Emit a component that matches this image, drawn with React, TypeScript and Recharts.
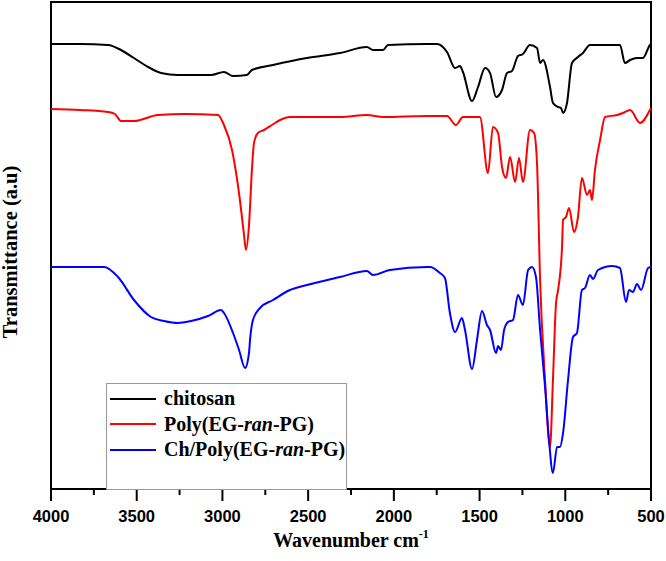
import React from 'react';
import { LineChart, Line, XAxis, YAxis, ReferenceArea, Legend } from 'recharts';

// Wavenumber tick positions (majors every 500, minors in between)
const xTicks = [4000, 3750, 3500, 3250, 3000, 2750, 2500, 2250, 2000, 1750, 1500, 1250, 1000, 750, 500];

// [wavenumber cm-1, transmittance (a.u.)]
const chitosan: [number, number][] = [
  [4000, 88.8], [3831, 88.8], [3667, 88.6], [3592, 87.6], [3516, 86.0], [3434, 84.2], [3358, 83.0],
  [3259, 82.6], [3067, 82.6], [2991, 83.2], [2938, 82.4], [2857, 82.6], [2828, 83.6], [2705, 84.6],
  [2507, 86.0], [2314, 87.0], [2157, 88.2], [2122, 87.6], [2063, 87.6], [2034, 88.6], [1807, 88.8],
  [1748, 88.8], [1690, 87.2], [1643, 84.0], [1614, 84.4], [1597, 83.2], [1544, 77.4], [1509, 80.2],
  [1468, 84.0], [1439, 83.0], [1404, 78.2], [1369, 79.6], [1340, 83.0], [1311, 83.4], [1276, 86.4],
  [1247, 86.8], [1206, 88.6], [1165, 88.0], [1147, 85.0], [1130, 85.6], [1089, 80.2], [1072, 77.0],
  [1042, 76.2], [1025, 76.0], [1013, 75.0], [990, 77.0], [961, 85.0], [926, 86.2], [897, 87.0],
  [856, 88.6], [681, 88.6], [652, 85.0], [622, 85.6], [582, 86.0], [547, 86.0], [506, 88.6], [500, 88.8],
];

const polyEgPg: [number, number][] = [
  [4000, 75.8], [3831, 75.6], [3667, 75.2], [3627, 74.8], [3592, 73.4], [3516, 73.4], [3376, 74.6],
  [3218, 74.8], [3026, 74.6], [2991, 72.6], [2944, 67.6], [2898, 57.6], [2874, 50.6], [2863, 47.6],
  [2845, 52.6], [2828, 63.6], [2816, 69.0], [2793, 71.0], [2758, 71.6], [2711, 72.6], [2664, 73.6],
  [2606, 74.2], [2314, 74.2], [2157, 74.6], [2063, 74.2], [1807, 74.4], [1690, 74.4], [1638, 72.6],
  [1597, 74.2], [1498, 74.2], [1451, 63.0], [1422, 72.2], [1392, 71.0], [1369, 64.2], [1346, 62.0],
  [1322, 66.2], [1293, 61.2], [1270, 66.0], [1247, 61.2], [1206, 71.6], [1182, 71.0], [1165, 65.0],
  [1147, 41.6], [1118, 21.6], [1089, 8.2], [1072, 21.6], [1054, 37.0], [1042, 39.6], [1019, 48.2],
  [1013, 53.6], [996, 54.2], [978, 56.0], [949, 51.2], [926, 54.2], [903, 62.0], [873, 58.6],
  [856, 59.6], [844, 57.6], [827, 63.6], [797, 69.6], [768, 74.2], [698, 74.6], [663, 75.0],
  [622, 75.6], [564, 73.0], [506, 75.6], [500, 76.0],
];

const chPolyEgPg: [number, number][] = [
  [4000, 44.2], [3691, 44.2], [3609, 42.2], [3516, 37.6], [3417, 34.2], [3341, 33.4], [3259, 33.0],
  [3183, 33.4], [3084, 34.4], [3008, 35.6], [2991, 35.0], [2938, 31.0], [2903, 27.6], [2868, 24.0],
  [2845, 27.0], [2839, 29.6], [2822, 33.6], [2781, 36.0], [2705, 37.6], [2606, 39.6], [2507, 40.6],
  [2314, 42.2], [2157, 43.4], [2122, 42.6], [2023, 43.6], [1807, 44.2], [1789, 44.2], [1731, 43.0],
  [1702, 42.0], [1673, 35.0], [1643, 31.2], [1603, 34.0], [1585, 31.6], [1544, 23.8], [1515, 29.6],
  [1486, 35.4], [1457, 32.6], [1439, 31.6], [1404, 27.0], [1392, 28.4], [1375, 27.6], [1357, 31.6],
  [1334, 33.2], [1305, 33.6], [1276, 38.6], [1247, 36.6], [1217, 43.6], [1194, 44.2], [1171, 42.2],
  [1147, 31.6], [1118, 20.2], [1095, 9.6], [1072, 3.0], [1048, 8.2], [1031, 8.2], [1013, 11.0],
  [984, 21.6], [955, 30.2], [932, 31.0], [903, 39.6], [885, 40.0], [856, 42.6], [838, 41.8],
  [809, 43.6], [727, 44.4], [681, 44.0], [646, 37.2], [628, 39.6], [605, 39.2], [582, 40.8],
  [558, 39.6], [517, 44.0], [500, 44.2],
];

const seriesNames = ['chitosan', 'Poly(EG-ran-PG)', 'Ch/Poly(EG-ran-PG)'];
const seriesColors = ['#000000', '#ff0000', '#0000ff'];
const seriesPoints = [chitosan, polyEgPg, chPolyEgPg];

const toRows = (pts: [number, number][]) => pts.map(([wn, t]) => ({ wn, t }));

const SERIF = '"Liberation Serif", "Times New Roman", serif';
const SANS = '"Liberation Sans", Arial, sans-serif';

const renderName = (name: string) => {
  const parts = name.split('ran');
  if (parts.length < 2) return name;
  return (
    <>
      {parts[0]}
      <i>ran</i>
      {parts[1]}
    </>
  );
};

const XTick = (props: any) => {
  const { x, y, payload } = props;
  const major = payload.value % 500 === 0;
  return (
    <g>
      <line x1={x} x2={x} y1={y} y2={y + (major ? 12 : 6)} stroke="#000" strokeWidth={2} />
      {major && (
        <text
          x={x}
          y={y + 21}
          dy="0.71em"
          textAnchor="middle"
          fontFamily={SANS}
          fontWeight="bold"
          fontSize={16.5}
          fill="#000"
        >
          {payload.value}
        </text>
      )}
    </g>
  );
};

const LegendBox = (props: any) => {
  const raw: any[] = props.payload || [];
  const payload = [...raw].sort(
    (a, b) => seriesNames.indexOf(String(a.value)) - seriesNames.indexOf(String(b.value))
  );
  return (
    <div
      style={{
        width: 241,
        height: 107,
        boxSizing: 'border-box',
        border: '1px solid #999',
        background: '#fff',
        paddingTop: 2,
      }}
    >
      {payload.map((p: any, i: number) => (
        <div
          key={i}
          style={{ height: 25.5, display: 'flex', alignItems: 'center', whiteSpace: 'nowrap' }}
        >
          <svg width={54} height={6} style={{ marginLeft: 3, flex: 'none' }}>
            <line x1={0} x2={46} y1={3} y2={3} stroke={p.color} strokeWidth={2} />
          </svg>
          <span
            style={{
              fontFamily: SERIF,
              fontWeight: 'bold',
              fontSize: 20,
              color: '#000',
              lineHeight: '25px',
            }}
          >
            {renderName(String(p.value))}
          </span>
        </div>
      ))}
    </div>
  );
};

export default function App() {
  return (
    <div style={{ position: 'absolute', left: 0, top: 0, width: 666, height: 561 }}>
      <LineChart width={666} height={561} margin={{ top: 2, right: 15, bottom: 42, left: 51 }}>
        <XAxis
          dataKey="wn"
          type="number"
          domain={[500, 4000]}
          reversed
          ticks={xTicks}
          interval={0}
          axisLine={false}
          tickLine={false}
          tickSize={0}
          tickMargin={0}
          height={30}
          allowDataOverflow
          tick={<XTick />}
          label={{
            content: (p: any) => {
              const vb = p.viewBox || { x: 51, y: 489, width: 600 };
              return (
                <text
                  x={vb.x + vb.width / 2}
                  y={vb.y + 58}
                  textAnchor="middle"
                  fontFamily={SERIF}
                  fontWeight="bold"
                  fontSize={20}
                  fill="#000"
                >
                  Wavenumber cm
                  <tspan dy={-9} fontSize={12}>-1</tspan>
                </text>
              );
            },
          }}
        />
        <YAxis
          type="number"
          domain={[-0.2, 97.2]}
          width={0}
          axisLine={false}
          tickLine={false}
          tick={false}
          allowDataOverflow
        />
        {seriesPoints.map((pts, i) => (
          <Line
            key={seriesNames[i]}
            data={toRows(pts)}
            dataKey="t"
            name={seriesNames[i]}
            type="monotone"
            stroke={seriesColors[i]}
            strokeWidth={2}
            dot={false}
            activeDot={false}
            isAnimationActive={false}
          />
        ))}
        <ReferenceArea
          x1={4000}
          x2={500}
          y1={-0.2}
          y2={97.2}
          fill="none"
          fillOpacity={0}
          stroke="#000"
          strokeWidth={2}
          ifOverflow="visible"
        />
        <Legend
          layout="horizontal"
          verticalAlign="middle"
          align="center"
          content={<LegendBox />}
          wrapperStyle={{ position: 'absolute', left: 106, top: 383, width: 241, height: 107 }}
        />
      </LineChart>
      <svg
        width={40}
        height={561}
        style={{ position: 'absolute', left: 0, top: 0, pointerEvents: 'none' }}
      >
        <text
          x={17}
          y={252}
          transform="rotate(-90, 17, 252)"
          textAnchor="middle"
          fontFamily={SERIF}
          fontWeight="bold"
          fontSize={20.5}
          fill="#000"
        >
          Transmittance (a.u)
        </text>
      </svg>
    </div>
  );
}
